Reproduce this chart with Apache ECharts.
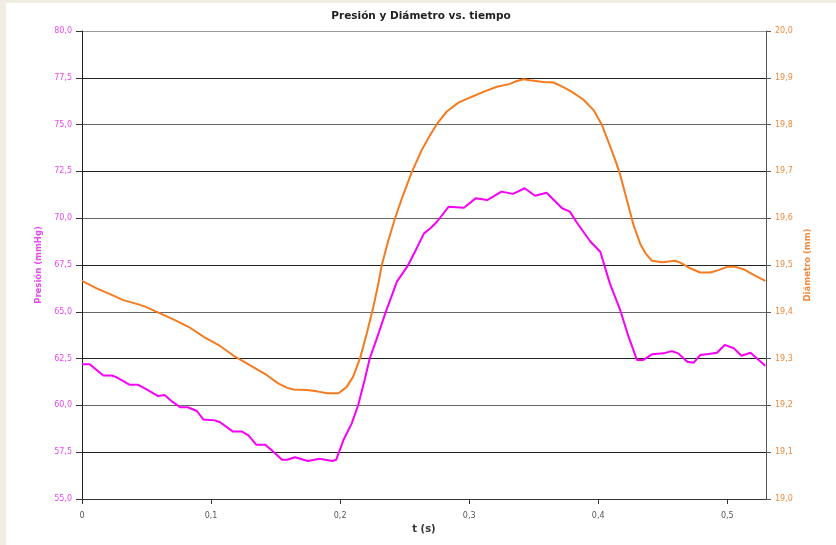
<!DOCTYPE html>
<html>
<head>
<meta charset="utf-8">
<script src="https://cdn.jsdelivr.net/npm/echarts@6/dist/echarts.min.js"></script>
<style>
html,body{margin:0;padding:0;background:#f1ede3;width:836px;height:545px;overflow:hidden;}
#c{position:absolute;left:6px;top:3px;width:830px;height:542px;background:#ffffff;}
</style>
</head>
<body>
<div id="c"></div>
<script>
// Presión (mmHg) vs tiempo (s)
const presionT = [0.000,0.006,0.0165,0.023,0.027,0.037,0.0436,0.049,0.059,0.064,0.070,0.076,0.082,0.089,0.094,0.103,0.107,0.117,0.124,0.129,0.135,0.142,0.147,0.155,0.159,0.165,0.175,0.184,0.194,0.197,0.2026,0.209,0.214,0.219,0.223,0.228,0.235,0.244,0.252,0.258,0.265,0.270,0.275,0.284,0.296,0.305,0.314,0.325,0.334,0.343,0.351,0.360,0.372,0.378,0.383,0.394,0.4016,0.409,0.417,0.4235,0.430,0.435,0.4416,0.4506,0.457,0.462,0.469,0.474,0.479,0.4855,0.492,0.498,0.505,0.511,0.518,0.523,0.5295];
const presionV = [62.2,62.2,61.6,61.6,61.5,61.1,61.1,60.9,60.5,60.55,60.2,59.9,59.9,59.7,59.25,59.2,59.1,58.6,58.6,58.4,57.9,57.9,57.6,57.1,57.1,57.23,57.03,57.15,57.03,57.1,58.15,59.04,60.02,61.36,62.52,63.49,64.92,66.61,67.41,68.21,69.19,69.46,69.81,70.61,70.56,71.06,70.97,71.42,71.3,71.6,71.2,71.36,70.53,70.35,69.81,68.74,68.21,66.52,65.1,63.67,62.43,62.43,62.73,62.78,62.9,62.78,62.33,62.28,62.69,62.74,62.81,63.23,63.05,62.65,62.81,62.51,62.12];

// Diámetro (mm) vs tiempo (s)
const diamT = [0.000,0.0114,0.023,0.032,0.0424,0.049,0.058,0.0708,0.0837,0.0953,0.107,0.1186,0.130,0.143,0.152,0.1587,0.1638,0.174,0.182,0.1899,0.1987,0.205,0.210,0.2155,0.2207,0.2258,0.2297,0.2323,0.2374,0.2426,0.2478,0.2556,0.2633,0.2698,0.2762,0.2827,0.2917,0.3008,0.311,0.3215,0.3318,0.3357,0.342,0.347,0.3576,0.3654,0.373,0.3796,0.3886,0.3964,0.4029,0.4093,0.4135,0.417,0.4222,0.4274,0.4326,0.4364,0.4416,0.4494,0.4597,0.4636,0.4713,0.479,0.4868,0.4933,0.4998,0.5062,0.5126,0.5204,0.5295];
const diamV = [19.466,19.450,19.436,19.425,19.417,19.411,19.400,19.384,19.366,19.345,19.327,19.304,19.286,19.265,19.247,19.238,19.234,19.233,19.230,19.226,19.226,19.239,19.261,19.301,19.354,19.411,19.461,19.500,19.553,19.600,19.642,19.699,19.746,19.778,19.806,19.828,19.847,19.858,19.870,19.881,19.887,19.892,19.897,19.895,19.891,19.890,19.880,19.870,19.853,19.831,19.799,19.753,19.722,19.693,19.639,19.585,19.545,19.526,19.509,19.506,19.509,19.505,19.493,19.484,19.484,19.489,19.496,19.496,19.491,19.479,19.466];

const titleText = 'Presión y Diámetro vs. tiempo';
const xName = 't (s)';
const leftName = 'Presión (mmHg)';
const rightName = 'Diámetro (mm)';

const MAG = '#f600f6';
const ORA = '#f47b20';
const LBL_MAG = '#e848f0';
const LBL_ORA = '#f08a3c';
const FONT = 'DejaVu Sans';
const comma = (v, d) => v.toFixed(d).replace('.', ',');

const chart = echarts.init(document.getElementById('c'), null, {renderer: 'canvas'});
chart.setOption({
  backgroundColor: '#ffffff',
  animation: false,
  title: {
    text: titleText, left: 'center', top: 3,
    textStyle: {fontFamily: FONT, fontSize: 10.5, fontWeight: 'bold', color: '#222'}
  },
  grid: {left: 76, right: 70, top: 28, bottom: 46},
  xAxis: {
    type: 'value', min: 0, max: 0.53, interval: 0.1,
    name: xName, nameLocation: 'middle', nameGap: 25,
    nameTextStyle: {fontFamily: FONT, fontSize: 10, fontWeight: 'bold', color: '#333'},
    axisLine: {show: true, onZero: false, lineStyle: {color: '#333', width: 1}},
    axisTick: {show: true, length: 5, lineStyle: {color: '#333'}},
    axisLabel: {showMaxLabel: false, margin: 13, fontFamily: FONT, fontSize: 8, color: '#555',
      formatter: v => v === 0 ? '0' : comma(v, 1)},
    splitLine: {show: false}
  },
  yAxis: [
    {
      type: 'value', min: 55, max: 80, interval: 2.5, position: 'left',
      name: leftName, nameLocation: 'middle', nameGap: 36, nameRotate: 90,
      nameTextStyle: {fontFamily: FONT, fontSize: 8.5, fontWeight: 'bold', color: LBL_MAG},
      axisLine: {show: true, lineStyle: {color: '#222', width: 1}},
      axisTick: {show: true, length: 6, lineStyle: {color: '#333'}},
      axisLabel: {margin: 10, fontFamily: FONT, fontSize: 8, color: LBL_MAG, formatter: v => comma(v, 1)},
      splitLine: {show: true, lineStyle: {color: ['#555','#222','#666','#222','#666','#222','#666','#222','#666','#222','#999'], width: 1}}
    },
    {
      type: 'value', min: 19, max: 20, interval: 0.1, position: 'right',
      name: rightName, nameLocation: 'middle', nameGap: 36, nameRotate: 90,
      nameTextStyle: {fontFamily: FONT, fontSize: 8.5, fontWeight: 'bold', color: LBL_ORA},
      axisLine: {show: true, lineStyle: {color: '#555', width: 1}},
      axisTick: {show: true, length: 5, lineStyle: {color: '#555'}},
      axisLabel: {margin: 9, fontFamily: FONT, fontSize: 8, color: LBL_ORA, formatter: v => comma(v, 1)},
      splitLine: {show: false}
    }
  ],
  series: [
    {
      name: leftName, type: 'line', yAxisIndex: 0, showSymbol: false, smooth: false,
      lineStyle: {color: MAG, width: 2}, itemStyle: {color: MAG},
      data: presionT.map((t, i) => [t, presionV[i]])
    },
    {
      name: rightName, type: 'line', yAxisIndex: 1, showSymbol: false, smooth: false,
      lineStyle: {color: ORA, width: 2}, itemStyle: {color: ORA},
      data: diamT.map((t, i) => [t, diamV[i]])
    }
  ]
});
</script>
</body>
</html>
